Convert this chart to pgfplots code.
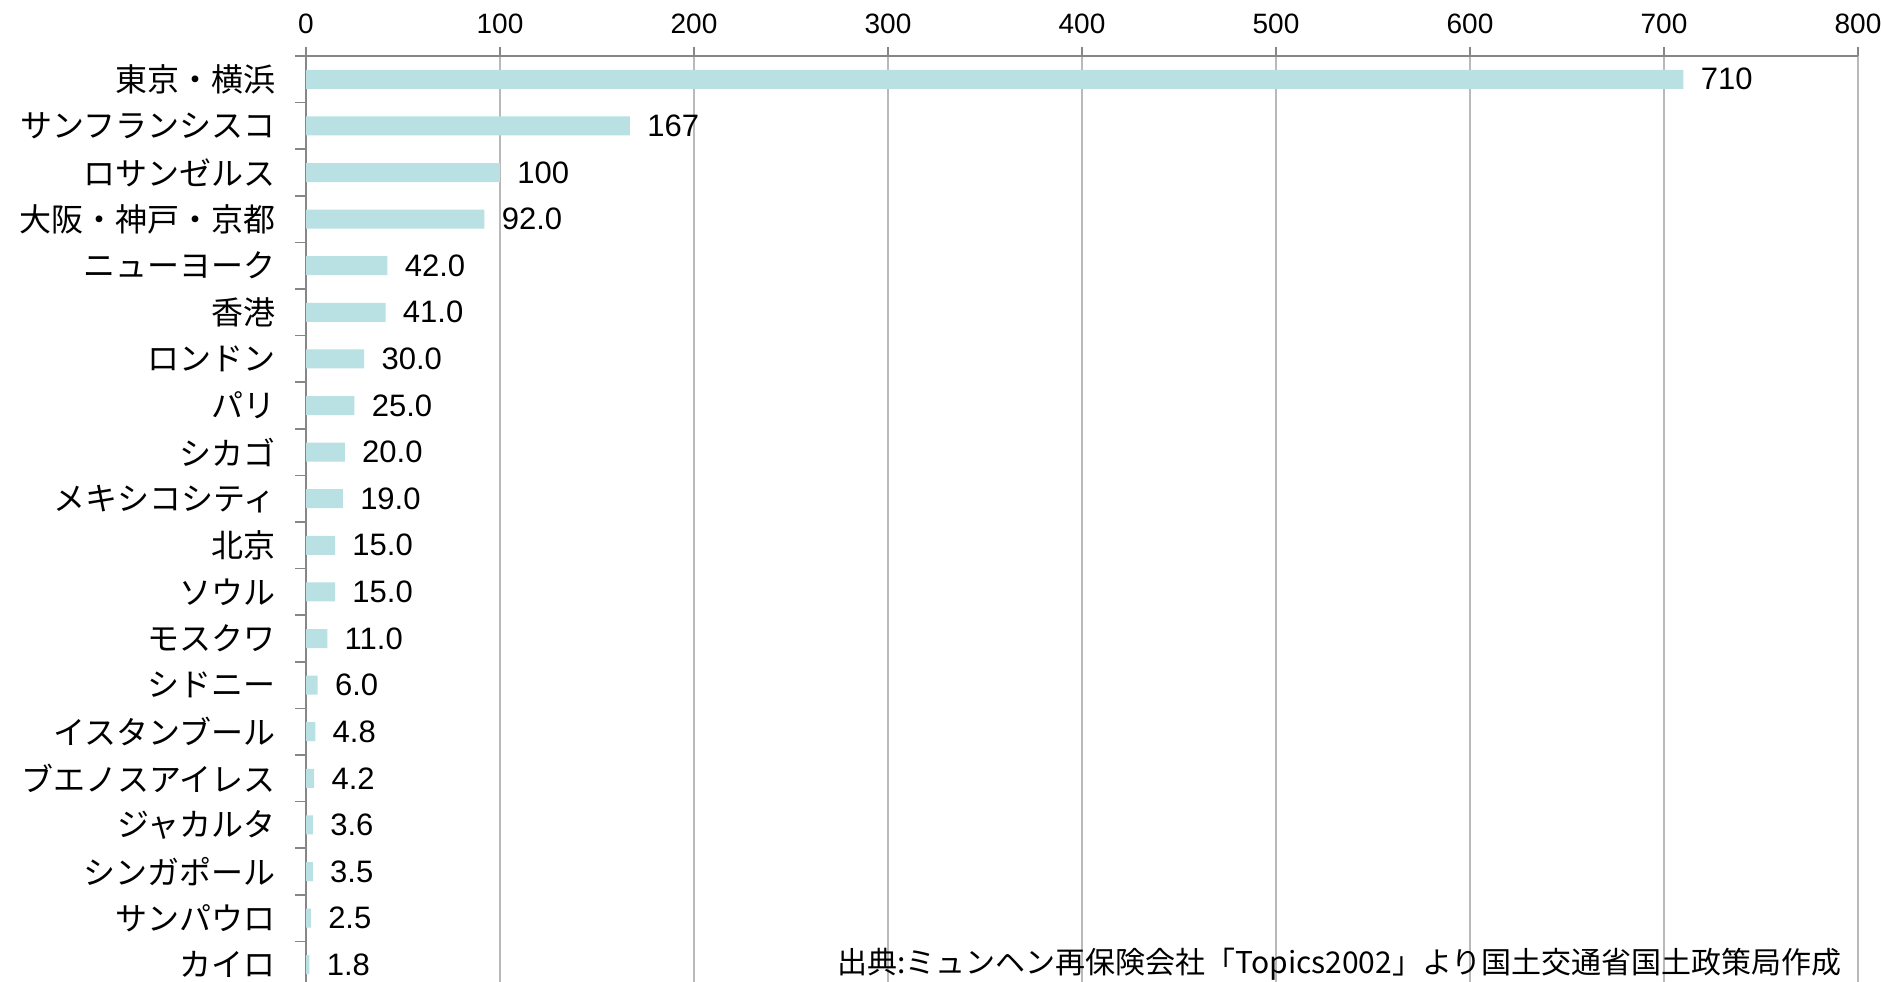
\documentclass[border=0pt]{standalone}
\usepackage{fontspec}
\setmainfont{Liberation Sans}
\newfontfamily\cjk{Noto Sans CJK JP}
\usepackage{pgfplots}
\pgfplotsset{compat=1.18}
\usepackage{pgfplotstable}
\definecolor{barc}{RGB}{185,224,227}
\definecolor{axc}{RGB}{134,134,134}
\definecolor{gridc}{RGB}{185,185,185}

\pgfplotstableread[col sep=comma]{
idx,val,lab
0,710,710
1,167,167
2,100,100
3,92,92.0
4,42,42.0
5,41,41.0
6,30,30.0
7,25,25.0
8,20,20.0
9,19,19.0
10,15,15.0
11,15,15.0
12,11,11.0
13,6,6.0
14,4.8,4.8
15,4.2,4.2
16,3.6,3.6
17,3.5,3.5
18,2.5,2.5
19,1.8,1.8
}\datatable

\begin{document}
\begin{tikzpicture}
\path[use as bounding box] (0,0) rectangle (940.5pt,490.5pt);
\clip (0,0) rectangle (940.5pt,490.5pt);
\begin{axis}[
  at={(153pt,462.5pt)}, anchor=north west,
  scale only axis, width=776pt, height=466pt,
  xmin=0, xmax=800, ymin=-0.5, ymax=19.5,
  y dir=reverse,
  axis x line*=top, axis y line*=left,
  x axis line style={-, draw=axc, line width=0.8pt},
  y axis line style={-, draw=axc, line width=0.8pt},
  xtick={0,100,...,800},
  xticklabel pos=top,
  xtick align=outside,
  major x tick style={draw=axc, line width=0.8pt},
  major tick length=4.5pt,
  xmajorgrids,
  major x grid style={draw=gridc, line width=0.8pt},
  xticklabel style={font=\fontsize{14}{14}\selectfont, inner sep=0pt, yshift=6.5pt},
  /pgf/number format/assume math mode=true,
  ytick={0,...,19},
  yticklabels={東京・横浜,サンフランシスコ,ロサンゼルス,大阪・神戸・京都,ニューヨーク,香港,ロンドン,パリ,シカゴ,メキシコシティ,北京,ソウル,モスクワ,シドニー,イスタンブール,ブエノスアイレス,ジャカルタ,シンガポール,サンパウロ,カイロ},
  major y tick style={draw=none},
  minor ytick={-0.5,0.5,...,19.5},
  minor y tick style={draw=axc, line width=0.8pt},
  minor tick length=5.5pt,
  ytick align=outside,
  yticklabel style={font=\cjk\fontsize{16}{16}\selectfont, inner sep=0pt, xshift=-10.5pt},
  clip=false,
]
\addplot[xbar, fill=barc, draw=none, bar width=9.5pt,
  nodes near coords, point meta=explicit symbolic,
  nodes near coords style={anchor=west, inner sep=0pt, xshift=8.5pt, font=\fontsize{15.5}{15.5}\selectfont, text=black}]
  table[x=val, y=idx, meta=lab] {\datatable};
\end{axis}
\node[anchor=east, inner sep=0pt, font=\cjk\fontsize{15}{15}\selectfont] at (921pt,8.5pt) {出典:ミュンヘン再保険会社「Topics2002」より国土交通省国土政策局作成};
\end{tikzpicture}
\end{document}
